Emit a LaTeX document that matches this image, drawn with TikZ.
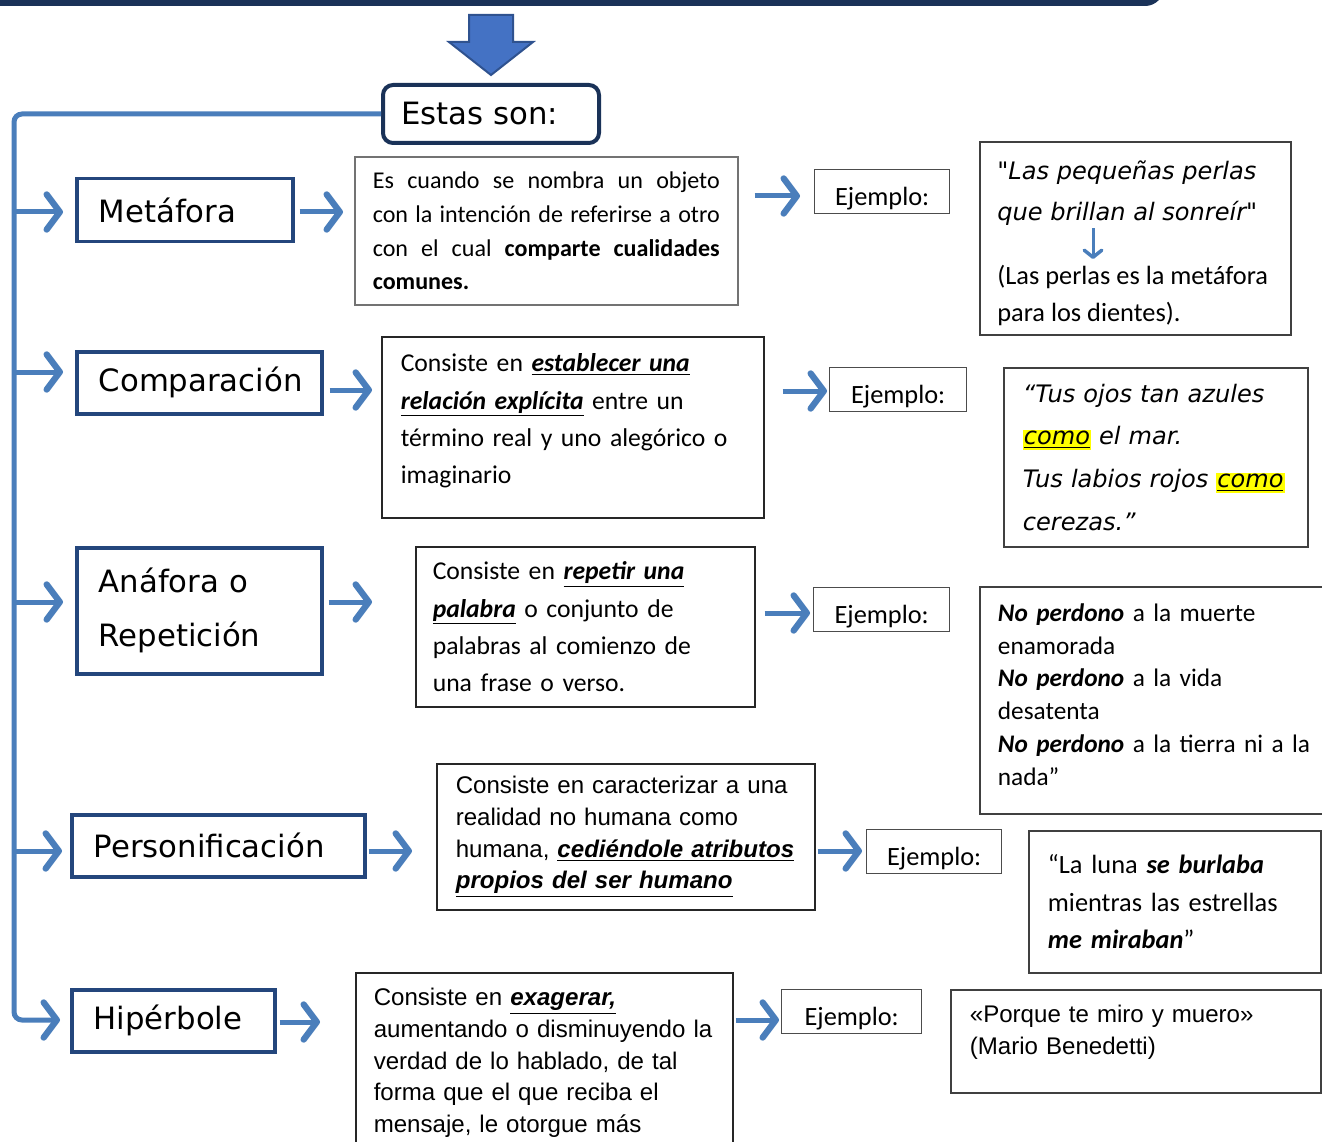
\documentclass[tikz,border=0pt]{standalone}
\usepackage{fontspec}
\setmainfont{Carlito}
\newfontfamily\comicfont{DejaVu Sans}[ItalicFont={DejaVu Sans Oblique}]
\newfontfamily\arialfont{Liberation Sans}
\usetikzlibrary{arrows.meta,positioning,calc}
\definecolor{navy}{RGB}{26,50,88}
\definecolor{catblue}{RGB}{36,70,124}
\definecolor{flowblue}{RGB}{74,126,187}
\definecolor{arrowfill}{RGB}{68,114,196}
\definecolor{arrowedge}{RGB}{47,82,143}
\definecolor{hlyellow}{RGB}{255,255,0}
\newdimen\pxu \pxu=0.02cm
\newcommand\ubi[1]{\underline{\textbf{\textit{#1}}}}
\newcommand\bi[1]{\textbf{\textit{#1}}}
\newcommand\hl[1]{{\setlength{\fboxsep}{0.6pt}\colorbox{hlyellow}{\underline{#1}}}}
\tikzset{
  >={Straight Barb[length=7.5pt,width=20pt,line width=3.6pt,round]},
  flow/.style={->,line width=5\pxu,draw=flowblue},
  thinflow/.style={-{Straight Barb[length=4pt,width=10pt,line width=2pt,round]},line width=3\pxu,draw=flowblue},
  estasbox/.style={draw=navy,line width=4\pxu,rounded corners=10\pxu,anchor=north west,
    inner xsep=18\pxu,align=left,font=\comicfont\fontsize{17.5}{21}\selectfont},
  cat/.style={draw=catblue,line width=3.5\pxu,anchor=north west,inner xsep=22\pxu,align=left,
    font=\comicfont\fontsize{17.5}{30.6}\selectfont},
  desc/.style={draw=black!85,line width=1.6\pxu,anchor=north west,align=left},
  ejbox/.style={draw=black!70,line width=1.4\pxu,anchor=north west,inner sep=0pt,
    text height=36\pxu,text depth=8\pxu,font=\fontsize{15}{18}\selectfont},
  sample/.style={draw=black!75,line width=1.8\pxu,anchor=north west,align=left},
  inner/.style={anchor=north west,inner sep=0pt,align=left},
}
\begin{document}
\begin{tikzpicture}[x=0.02cm,y=-0.02cm]
  \useasboundingbox (0,0) rectangle (1322,1142);
  \clip (0,0) rectangle (1322,1142);

  % box above, only its lower edge is seen
  \node[draw=navy,line width=6\pxu,rounded corners=16\pxu,minimum width=1250\pxu,
    minimum height=120\pxu,anchor=south east,inner sep=0pt] (head) at (1164,6) {};

  \node[estasbox,text width=180\pxu,minimum height=58\pxu] (estas) at (381,83) {Estas son:};
  \filldraw[fill=arrowfill,draw=arrowedge,line width=2\pxu]
    ($(estas.north)+(-22,-68)$) -- ++(44,0) -- ++(0,27) -- ++(20,0) -- ++(-42,33)
    -- ++(-42,-33) -- ++(20,0) -- cycle;

  % figures
  \node[cat,text width=172\pxu,minimum height=63\pxu] (met) at (75,177) {Metáfora};
  \node[cat,text width=201\pxu,minimum height=62\pxu] (cmp) at (75,350) {Comparación};
  \node[cat,text width=201\pxu,minimum height=126\pxu] (ana) at (75,546) {Anáfora o\\Repetición};
  \node[cat,text width=249\pxu,minimum height=62\pxu] (per) at (70,813) {Personificación};
  \node[cat,text width=159\pxu,minimum height=62\pxu] (hip) at (70,988) {Hipérbole};

  % definitions
  \node[desc,draw=black!55,align=justify,font=\fontsize{13.7}{19.3}\selectfont,
    inner xsep=18\pxu,text width=347\pxu,minimum height=148\pxu] (d1) at (354,156)
    {Es cuando se nombra un objeto\linebreak con la intención de referirse a otro\linebreak
     con el cual \textbf{comparte cualidades}\linebreak \textbf{comunes.}};
  \node[desc,font=\fontsize{14.6}{21.2}\selectfont,inner xsep=19\pxu,text width=344\pxu,
    text depth=129\pxu,minimum height=181\pxu] (d2) at (381,336)
    {Consiste en \ubi{establecer una}\\\ubi{relación explícita} entre un\\
     \mbox{término real y uno alegórico o}\\imaginario};
  \node[desc,font=\fontsize{14.6}{21.2}\selectfont,inner xsep=17\pxu,text width=305\pxu,
    minimum height=160\pxu] (d3) at (415,546)
    {Consiste en \ubi{repetir una}\\\ubi{palabra} o conjunto de\\
     palabras al comienzo de\\una frase o verso.};
  \node[desc,font=\arialfont\fontsize{13.7}{18.1}\selectfont,inner xsep=19\pxu,text width=340\pxu,
    minimum height=146\pxu] (d4) at (436,763)
    {\mbox{Consiste en caracterizar a una}\\realidad no humana como\\
     \mbox{humana, \ubi{cediéndole atributos}}\\\ubi{propios del ser humano}};
  \node[desc,font=\arialfont\fontsize{13.7}{18.1}\selectfont,inner xsep=18\pxu,text width=341\pxu,
    minimum height=180\pxu] (d5) at (355,972)
    {Consiste en \ubi{exagerar,}\\\mbox{aumentando o disminuyendo la}\\
     verdad de lo hablado, de tal\\forma que el que reciba el\\mensaje, le otorgue más};

  % Ejemplo boxes
  \node[ejbox,minimum width=135\pxu] (e1) at (814,169) {Ejemplo:};
  \node[ejbox,minimum width=137\pxu] (e2) at (829,367) {Ejemplo:};
  \node[ejbox,minimum width=136\pxu] (e3) at (813,587) {Ejemplo:};
  \node[ejbox,minimum width=135\pxu] (e4) at (866,829) {Ejemplo:};
  \node[ejbox,minimum width=140\pxu] (e5) at (781,989) {Ejemplo:};

  % examples
  \node[sample,minimum width=311\pxu,minimum height=193\pxu] (x1) at (979,141) {};
  \node[inner,font=\comicfont\itshape\fontsize{13.7}{23.8}\selectfont] (x1q) at (997,160)
    {"Las pequeñas perlas\\que brillan al sonreír"};
  \node[inner,font=\fontsize{15}{21}\selectfont] (x1n) at (997,265)
    {(Las perlas es la metáfora\\para los dientes).};
  \coordinate (x1c) at (1093,0);
  \draw[thinflow,shorten <=2\pxu,shorten >=6\pxu] (x1q.south -| x1c) -- (x1n.north -| x1c);

  \node[sample,font=\comicfont\itshape\fontsize{13.7}{24.4}\selectfont,inner xsep=19\pxu,
    text width=266\pxu,minimum height=179\pxu] (x2) at (1003,367)
    {\mbox{“Tus ojos tan azules}\\\hl{como} el mar.\\\mbox{Tus labios rojos \hl{como}}\\cerezas.”};
  \node[sample,font=\fontsize{14.4}{18.7}\selectfont,inner xsep=18\pxu,text width=330\pxu,
    text depth=176\pxu,minimum height=227\pxu] (x3) at (979,586)
    {\bi{No perdono} a la muerte\\enamorada\\\bi{No perdono} a la vida\\desatenta\\
     \mbox{\bi{No perdono} a la tierra ni a la}\\nada"};
  \node[sample,font=\fontsize{15}{21.3}\selectfont,inner xsep=19\pxu,text width=254\pxu,
    minimum height=142\pxu] (x4) at (1028,830)
    {“La luna \bi{se burlaba}\\mientras las estrellas\\\bi{me miraban}”};
  \node[sample,font=\arialfont\fontsize{13.7}{18.1}\selectfont,inner xsep=19\pxu,text width=332\pxu,
    text depth=55\pxu,minimum height=103\pxu] (x5) at (950,989)
    {«Porque te miro y muero»\\(Mario Benedetti)};

  % trunk and branches
  \coordinate (trunk) at (14,0);
  \draw[flow,rounded corners=8\pxu,shorten >=10\pxu] (estas.west) -| (trunk |- 0,1020) -- (hip.west |- 0,1020);
  \foreach \c/\y/\s in {met/212/12,cmp/372/12,ana/602/12,per/851/8}
    \draw[flow,shorten >=\s\pxu] (trunk |- 0,\y) -- (\c.west |- 0,\y);

  % rows: figure -> definition -> Ejemplo
  \foreach \c/\d/\e/\ya/\yb/\sa/\sb/\sc/\sd in {met/d1/e1/212/196/5/11/16/14,
      cmp/d2/e2/390/391/6/9/18/2,ana/d3/e3/602/613/5/43/9/3,
      per/d4/e4/851/851/2/24/2/4,hip/d5/e5/1022/1020/3/35/2/2}{
    \draw[flow,shorten <=\sa\pxu,shorten >=\sb\pxu] (\c.east |- 0,\ya) -- (\d.west |- 0,\ya);
    \draw[flow,shorten <=\sc\pxu,shorten >=\sd\pxu] (\d.east |- 0,\yb) -- (\e.west |- 0,\yb);
  }
\end{tikzpicture}
\end{document}
